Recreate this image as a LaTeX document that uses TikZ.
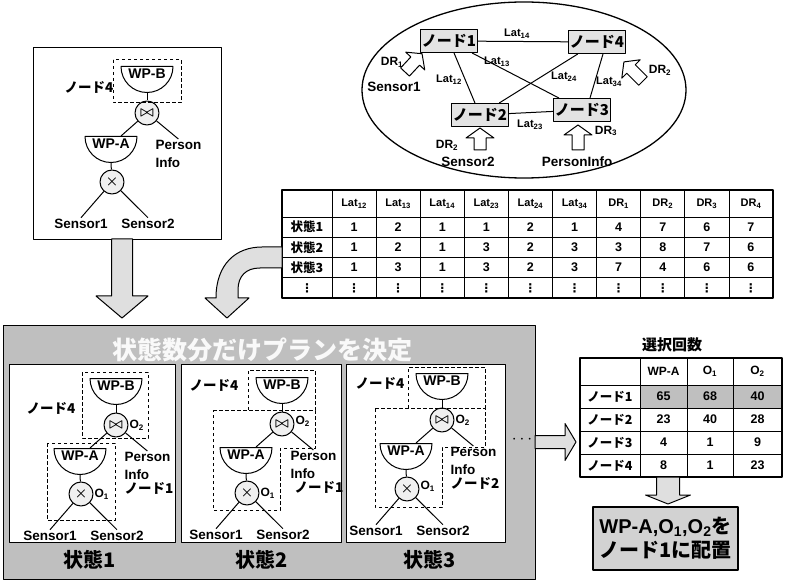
\documentclass[tikz,border=0pt]{standalone}
\usepackage{fontspec}
\setmainfont{Liberation Sans}
\newfontfamily\jp{Noto Sans CJK JP}
\newfontfamily\sym{DejaVu Sans}
\usetikzlibrary{shapes.geometric,calc}

\tikzset{
  every node/.style={inner sep=1pt, font=\bfseries\fontsize{13.5}{18}\selectfont},
  qbox/.style={draw, line width=1.4pt, anchor=north west},
  wp/.style={semicircle, shape border rotate=180, draw, fill=white, anchor=chord center,
    minimum width=52pt, inner sep=1pt, font=\bfseries\fontsize{14}{16}\selectfont},
  op/.style={circle, draw, fill=gray!12, minimum size=24pt, inner sep=0pt,
    font=\boldmath\bfseries\fontsize{13.5}{16}\selectfont},
  host/.style={draw, fill=gray!22, minimum width=57pt, minimum height=23pt,
    font=\jp\bfseries\fontsize{15}{17}\selectfont},
  hostarea/.style={draw, line width=1pt, dash pattern=on 3.5pt off 2.5pt},
  latlbl/.style={font=\bfseries\fontsize{11}{12}\selectfont},
  drlbl/.style={font=\bfseries\fontsize{12}{14}\selectfont},
  jplbl/.style={font=\jp\bfseries\fontsize{13.5}{16}\selectfont},
  olbl/.style={font=\bfseries\fontsize{12}{14}\selectfont, inner sep=0.5pt},
  panel/.style={draw, fill=white, line width=0.8pt, anchor=north west},
  statelbl/.style={font=\jp\bfseries\fontsize{20}{22}\selectfont},
  hdr/.style={font=\bfseries\fontsize{11}{12}\selectfont},
  cell/.style={font=\bfseries\fontsize{12.5}{14}\selectfont},
  vdot/.style={font=\sym\bfseries\fontsize{12}{12}\selectfont, inner sep=0pt},
  rowlbl/.style={font=\jp\bfseries\fontsize{12.5}{14}\selectfont},
  bigarrow/.style={draw, fill=gray!25, line width=1pt},
  hollowarrow/.style={draw, fill=white, line width=1pt},
  pics/fatarrow/.style args={#1/#2/#3/#4}{code={
    \path[pic actions] (0,-#2) -- ({#1-#4},-#2) -- ({#1-#4},-#3) -- (#1,0)
      -- ({#1-#4},#3) -- ({#1-#4},#2) -- (0,#2) -- cycle;
  }},
  pics/plan/.style={code={
    \node[wp] (wb) at (0,0) {WP-B};
    \node[op] (jn) at (0,47) {$\bowtie$};
    \node[wp] (wa) at (-36,70) {WP-A};
    \node[op] (cr) at (-35,116) {$\times$};
    \node (s1) at (-66,158) {Sensor1};
    \node (s2) at (1,158) {Sensor2};
    \node[align=left, anchor=north west] (pi) at (7,73) {Person\\Info};
    \draw (wb.apex) -- (jn);
    \draw (jn) -- ([xshift=10pt]wa.chord center);
    \draw (jn) -- (pi.north);
    \draw (wa.apex) -- (cr);
    \draw (cr) -- (s1.north);
    \draw (cr) -- (s2.north);
  }}
}

\begin{document}
\begin{tikzpicture}[x=1pt,y=-1pt,line width=1pt,line join=round]
\useasboundingbox (0,0) rectangle (785,580);

% query tree
\node[qbox, minimum width=188pt, minimum height=192pt] (query) at (33,47) {};
\pic (t0) at (147,66) {plan};
\draw[hostarea] (113,60) rectangle (181,103);
\node[jplbl] (t0h4) at (89,87) {ノード4};

% network of nodes
\node[draw, ellipse, line width=1.3pt, minimum width=324pt, minimum height=176pt] (net) at (524,90) {};
\node[host] (n1) at (449,41) {ノード1};
\node[host] (n4) at (597,42) {ノード4};
\node[host] (n2) at (480,115) {ノード2};
\node[host] (n3) at (582,110) {ノード3};
\draw (n1) -- (n4);
\draw (n1) -- (n3);
\draw (n1) -- (n2);
\draw (n2) -- (n4);
\draw (n2) -- (n3);
\draw ([xshift=6pt]n4.south) -- ([xshift=8pt]n3.north);
\node[latlbl] (l14) at (517,34) {Lat\textsubscript{14}};
\node[latlbl] (l13) at (497,62) {Lat\textsubscript{13}};
\node[latlbl] (l12) at (449,80) {Lat\textsubscript{12}};
\node[latlbl] (l24) at (564,77) {Lat\textsubscript{24}};
\node[latlbl] (l34) at (609,82) {Lat\textsubscript{34}};
\node[latlbl] (l23) at (530,125) {Lat\textsubscript{23}};
\pic[hollowarrow, rotate=47] (a1) at (405,72) {fatarrow=25/6/13/10};
\pic[hollowarrow, rotate=90] (a2) at (480,150) {fatarrow=22/6/14/10};
\pic[hollowarrow, rotate=90] (a3) at (578,150) {fatarrow=25/6/14/10};
\pic[hollowarrow, rotate=135] (a4) at (643,81) {fatarrow=27/6/13/10};
\node[drlbl] (dr1) at (392,62) {DR\textsubscript{1}};
\node (sen1) at (394,87) {Sensor1};
\node[drlbl] (dr2) at (447,145) {DR\textsubscript{2}};
\node (sen2) at (468,162) {Sensor2};
\node[drlbl] (dr3) at (606,131) {DR\textsubscript{3}};
\node (pinf) at (577,162) {PersonInfo};
\node[drlbl] (dr4) at (660,70) {DR\textsubscript{2}};

% state table
\fill[white] (282,190) rectangle (773,298);
\foreach \h [count=\c] in {Lat\textsubscript{12},Lat\textsubscript{13},Lat\textsubscript{14},Lat\textsubscript{23},Lat\textsubscript{24},Lat\textsubscript{34},DR\textsubscript{1},DR\textsubscript{2},DR\textsubscript{3},DR\textsubscript{4}}
  \node[hdr] (h\c) at ({332+44.1*(\c-0.5)},203.5) {\h};
\foreach \vals [count=\r] in {{1,2,1,1,2,1,4,7,6,7},{1,2,1,3,2,3,3,8,7,6},{1,3,1,3,2,3,7,4,6,6}}{
  \node[rowlbl] (s\r) at (307,{227.1+20.25*(\r-1)}) {状態\r};
  \foreach \v [count=\c] in \vals
    \node[cell] (c\r-\c) at ({332+44.1*(\c-0.5)},{227.1+20.25*(\r-1)}) {\v};
}
\node[vdot] (d0) at (307,288) {⋮};
\foreach \c in {1,...,10}
  \node[vdot] (d\c) at ({332+44.1*(\c-0.5)},288) {⋮};
\foreach \y in {217,237.25,257.5,277.75}
  \draw[line width=0.8pt] (282,\y) -- (773,\y);
\draw[line width=0.8pt] (332,190) -- (332,298);
\foreach \c in {1,...,9}
  \draw[line width=0.8pt] ({332+44.1*\c},190) -- ++(0,108);
\draw[line width=1.4pt] (282,190) rectangle (773,298);

% arrows into the plans
\pic[bigarrow, rotate=-90] (todown) at (122,239) {fatarrow=79/10.5/26/22};
\draw[bigarrow] (282,247) -- (262,247) .. controls (236,247) and (216,264) .. (216,298)
  -- (205,298) -- (227,318) -- (249,298) -- (238,298) -- (238,290)
  .. controls (238,276) and (246,268) .. (260,268) -- (282,268) -- cycle;

% plans for each state
\node[draw, fill=gray!50, line width=1.4pt, anchor=north west, minimum width=532pt, minimum height=254pt] (plans) at (3,325) {};
\node[text=gray!5, font=\jp\bfseries\fontsize{25}{28}\selectfont] (ttl) at (262,350) {状態数分だけプランを決定};
\node[panel, minimum width=166pt, minimum height=178pt] (pn1) at (9,364) {};
\node[panel, minimum width=160pt, minimum height=178pt] (pn2) at (181,364) {};
\node[panel, minimum width=159pt, minimum height=178pt] (pn3) at (346,364) {};

\pic (p1) at (116,378) {plan};
\draw[hostarea] (82,372) rectangle (148,438);
\draw[hostarea] (47,443) rectangle (115,520);
\node[jplbl] (p1h4) at (51,408) {ノード4};
\node[jplbl, anchor=north west] (p1h1) at (p1pi.south west) {ノード1};
\node[olbl, right] (p1o2) at (p1jn.east) {O\textsubscript{2}};
\node[olbl, right] (p1o1) at (p1cr.east) {O\textsubscript{1}};

\pic (p2) at (282,377) {plan};
\draw[hostarea] (248,410) |- (315,370) -- (315,410);
\draw[hostarea] (213,410) -- (315,410) -- (315,448) -- (280,448) -- (280,510) -- (213,510) -- cycle;
\node[jplbl] (p2h4) at (214,385) {ノード4};
\node[jplbl, anchor=north west] (p2h1) at ([xshift=4pt]p2pi.south west) {ノード1};
\node[olbl, right] (p2o2) at ([yshift=3pt]p2jn.east) {O\textsubscript{2}};
\node[olbl, right] (p2o1) at (p2cr.east) {O\textsubscript{1}};

\pic (p3) at (442,373) {plan};
\draw[hostarea] (408,408) |- (485,367) -- (485,408);
\draw[hostarea] (375,408) -- (485,408) -- (485,447) -- (442,447) -- (442,507) -- (375,507) -- cycle;
\node[jplbl] (p3h4) at (380,383) {ノード4};
\node[jplbl, anchor=north west] (p3h2) at (p3pi.south west) {ノード2};
\node[olbl, right] (p3o2) at (p3jn.east) {O\textsubscript{2}};
\node[olbl, right] (p3o1) at ([yshift=3pt]p3cr.east) {O\textsubscript{1}};

\node[statelbl] (st1) at (90,560) {状態1};
\node[statelbl] (st2) at (262,560) {状態2};
\node[statelbl] (st3) at (430,560) {状態3};
\node[font=\bfseries\fontsize{16}{16}\selectfont] (more) at (522,440) {$\cdots$};

% count table
\pic[bigarrow] (toright) at (535,442) {fatarrow=41/6.5/18.5/11};
\node[font=\jp\bfseries\fontsize{15}{17}\selectfont] (cnt) at (672,345) {選択回数};
\fill[gray!50] (640,385) rectangle (782,408);
\node[font=\bfseries\fontsize{12}{14}\selectfont] (ch2) at (663.5,371.5) {WP-A};
\node[font=\bfseries\fontsize{12}{14}\selectfont] (ch3) at (710,371.5) {O\textsubscript{1}};
\node[font=\bfseries\fontsize{12}{14}\selectfont] (ch4) at (757.5,371.5) {O\textsubscript{2}};
\foreach \u/\v/\w [count=\r] in {65/68/40,23/40/28,4/1/9,8/1/23}{
  \node[rowlbl] (k\r) at (610,{396.5+23*(\r-1)}) {ノード\r};
  \node[cell] (k\r-1) at (663.5,{396.5+23*(\r-1)}) {\u};
  \node[cell] (k\r-2) at (710,{396.5+23*(\r-1)}) {\v};
  \node[cell] (k\r-3) at (757.5,{396.5+23*(\r-1)}) {\w};
}
\foreach \y in {385,408,431,454}
  \draw[line width=0.8pt] (580,\y) -- (782,\y);
\foreach \x in {640,687,733}
  \draw[line width=0.8pt] (\x,358) -- (\x,477);
\draw[line width=1.4pt] (580,358) rectangle (782,477);

% placement result
\pic[bigarrow, rotate=-90] (toresult) at (668,477) {fatarrow=27/11.5/22.5/9};
\node[draw, fill=gray!35, line width=1.2pt, minimum width=145pt, minimum height=63pt, align=center,
  font=\bfseries\fontsize{20}{24}\selectfont] (res) at (665.5,538.5)
  {WP-A,O\textsubscript{1},O\textsubscript{2}{\jp を}\\{\jp ノード1に配置}};
\end{tikzpicture}
\end{document}
